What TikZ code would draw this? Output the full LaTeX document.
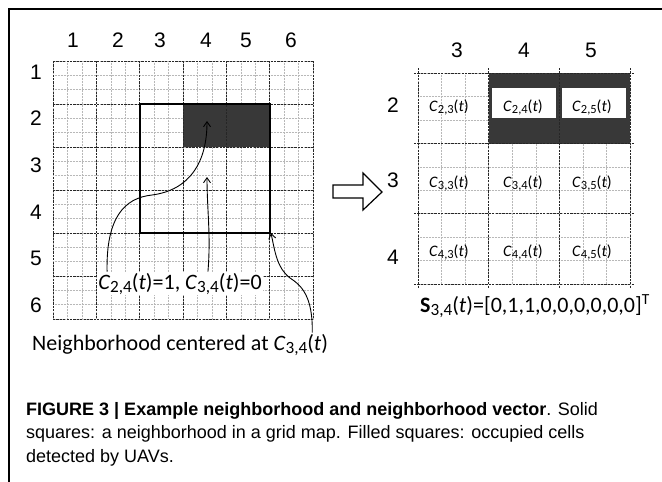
\documentclass[tikz,border=0pt]{standalone}
\usepackage{fontspec}
\setmainfont{Carlito}
\newfontfamily\labfont{Liberation Sans}
\newfontfamily\capfont{Liberation Sans}
\usetikzlibrary{arrows.meta,positioning}
\newcommand{\Sub}[1]{\raisebox{-0.3ex}{\scalebox{0.78}{#1}}}
\newcommand{\Cell}[2]{\textit{C}\Sub{#1,#2}(\textit{t})}

\begin{document}
\begin{tikzpicture}[x=1pt, y=-1pt,
  minorline/.style={black!28, densely dotted, line width=0.5pt},
  majorline/.style={black!85, dash pattern=on 2.2pt off 1.2pt, line width=0.9pt},
  numlabel/.style={font=\labfont\fontsize{21}{25}\selectfont, inner sep=0pt},
  bigtext/.style={font=\fontsize{22}{26}\selectfont, inner sep=1pt},
  celltext/.style={font=\fontsize{16}{19}\selectfont, inner sep=0pt},
  occupied/.style={fill=black!78},
  >={Straight Barb[length=5pt,width=7pt]}]
\useasboundingbox (0,0) rectangle (662,482);
\draw[line width=1.1pt] (9,482) -- (9,9) -- (662,9);

% grid map
\foreach \k in {0,...,18} \draw[minorline] ({53+\k*43.33/3},61) -- ({53+\k*43.33/3},319);
\foreach \k in {0,...,18} \draw[minorline] (53,{61+\k*43/3}) -- (313,{61+\k*43/3});
\fill[occupied] (183,104) rectangle (270,147);
\foreach \k in {0,...,6} \draw[majorline] ({53+\k*43.33},61) -- ({53+\k*43.33},319);
\foreach \k in {0,...,6} \draw[majorline] (53,{61+\k*43}) -- (313,{61+\k*43});
\draw[line width=2.4pt] (140,104) rectangle (270,233);
\foreach \xx [count=\i] in {73,118,160,206,246,291} \node[numlabel] (c\i) at (\xx,40) {\i};
\foreach \yy [count=\i] in {72,118,165,212,258,305} \node[numlabel] (r\i) at (36,\yy) {\i};

\node[bigtext, fill=white, anchor=base] (occ) at (180,289) {\Cell{2}{4}=1, \Cell{3}{4}=0};
\node[bigtext, anchor=base west] (centre) at (31,350) {Neighborhood centered at \Cell{3}{4}};
\coordinate (occtip) at (207,121);
\coordinate (freetip) at (207,177);
\coordinate (boxtip) at (271,233);
\draw[->, line width=0.9pt] ([xshift=10pt]occ.north west) .. controls (106,218) and (124,198) .. (152,195) .. controls (190,190) and (207,162) .. (occtip);
\draw[->, line width=0.9pt] ([xshift=-55pt]occ.north east) .. controls (211,235) and (207,210) .. (freetip);
\draw[->, line width=0.9pt] ([xshift=-17pt]centre.north east) .. controls (313,296) and (301,285) .. (290,278) .. controls (277,268) and (275,252) .. (boxtip);

% hollow arrow
\draw[line width=1.2pt, line join=miter] (333,185) -- (363,185) -- (363,173) -- (382,192) -- (363,210) -- (363,198) -- (333,198) -- cycle;

% neighborhood cells
\foreach \k in {0,...,9} \draw[minorline] ({418+\k*70.67/3},73) -- ({418+\k*70.67/3},284);
\foreach \k in {0,...,9} \draw[minorline] (418,{73+\k*70.33/3}) -- (630,{73+\k*70.33/3});
\fill[occupied] (489,73) rectangle (630,144);
\fill[white] (492,88) rectangle (556,118);
\fill[white] (562,88) rectangle (626,118);
\foreach \k in {0,...,3} \draw[majorline] ({418+\k*70.67},68) -- ({418+\k*70.67},288);
\foreach \k in {0,...,3} \draw[majorline] (414,{73+\k*70.33}) -- (634,{73+\k*70.33});
\foreach \xx/\j in {457/3,524/4,591/5} \node[numlabel] (k\j) at (\xx,50) {\j};
\foreach \yy/\i in {105/2,180/3,257/4} \node[numlabel] (m\i) at (393,\yy) {\i};
\foreach \i/\yy in {2/111,3/187,4/256}
  \foreach \j/\xx in {3/449,4/523,5/592}
    \node[celltext, anchor=base] (s\i\j) at (\xx,\yy) {\Cell{\i}{\j}};

\node[bigtext, anchor=base] (svec) at (535,312) {\textbf{S}\Sub{3,4}(\textit{t})=[0,1,1,0,0,0,0,0,0]\textsuperscript{T}};

\node[anchor=north west, inner sep=0pt, align=left, font=\capfont\fontsize{18}{23.5}\selectfont] (caption) at (26,402)
  {{\bfseries FIGURE 3 | Example neighborhood and neighborhood vector}. Solid\\
   squares: a neighborhood in a grid map. Filled squares: occupied cells\\
   detected by UAVs.};
\end{tikzpicture}
\end{document}
